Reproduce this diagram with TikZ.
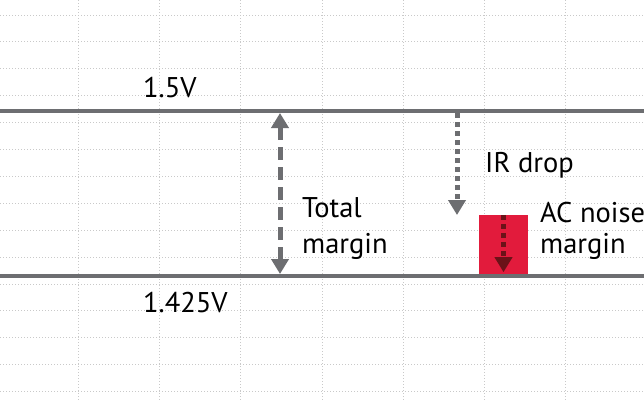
\documentclass[tikz,border=0pt]{standalone}
\usepackage{fontspec}
\setmainfont{PT Sans}
\usetikzlibrary{arrows.meta,positioning,calc}
\definecolor{Rail}{HTML}{6D6E71}
\definecolor{Grid}{HTML}{C9C9C9}
\definecolor{Noise}{HTML}{E21B3C}
\definecolor{DarkNoise}{HTML}{6B1218}
\tikzset{
  lbl/.style={anchor=base west,inner sep=0pt,align=left,font=\fontsize{28.5}{33}\selectfont},
  rail/.style={Rail,line width=4pt},
  tri/.tip={Triangle[length=15pt,width=17pt]}
}

\begin{document}
\begin{tikzpicture}[x=1pt,y=-1pt]
    \useasboundingbox[fill=white] (0,0) rectangle (644,400);
    % grid
    \foreach \gx in {78,159,240,322,403,484,565}
      \draw[Grid,line width=1pt,dotted] (\gx,0)--(\gx,400);
    \foreach \gy in {0,...,14}
      \draw[Grid,line width=1pt,dotted] (0,15+26.9*\gy)--(644,15+26.9*\gy);
    % rails
    \draw[rail] (0,111)--(644,111);\draw[rail] (0,276)--(644,276);
    \node[lbl] (vhi) at (143,97) {1.5V};
    \node[lbl] (vlo) at (143,312) {1.425V};
    % noise box
    \node[fill=Noise,inner sep=0pt,minimum width=49pt,minimum height=59pt] (ac) at (503.5,244.5) {};
    \coordinate (tmtop) at (280,113);\coordinate (tmbot) at (280,274);
    \coordinate (irtop) at (457,113);\coordinate (irbot) at (457,215);
    \draw[tri-tri,Rail,line width=5pt,dash pattern=on 13pt off 7pt] (tmtop)--(tmbot);
    \draw[-tri,Rail,line width=5pt,dash pattern=on 5pt off 4pt] (irtop)--(irbot);
    \draw[-tri,DarkNoise,line width=5pt,dash pattern=on 5pt off 4pt] (ac.north)--([yshift=2pt]ac.south);
    \node[lbl,font=\fontsize{28.5}{35.5}\selectfont] (tm) at (302,253) {Total\\margin};
    \node[lbl] (ir) at (485,172) {IR drop};
    \node[lbl,font=\fontsize{28.5}{31}\selectfont] (acl) at (540,253) {AC noise\\margin};
  \end{tikzpicture}
\end{document}
